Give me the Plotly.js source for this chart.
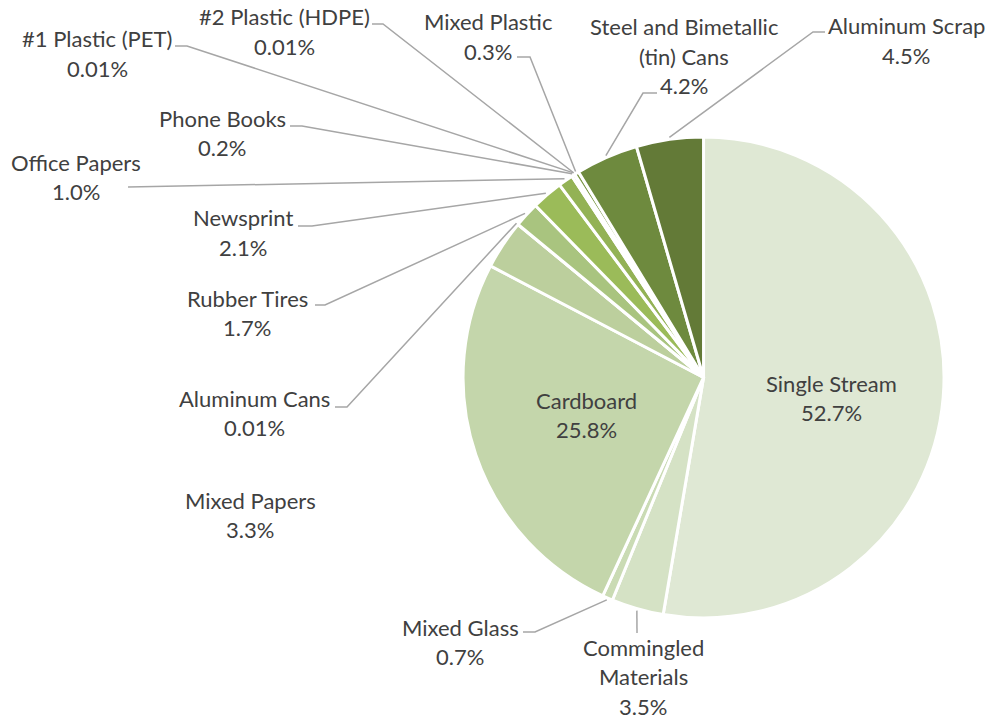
<!DOCTYPE html>
<html>
<head>
<meta charset="utf-8">
<script src="https://cdn.plot.ly/plotly-3.0.1.min.js"></script>
<style>
html,body{margin:0;padding:0;background:#ffffff;}
#chart{width:993px;height:721px;}
</style>
</head>
<body>
<div id="chart"></div>
<script>
// ---- data ----
const categories = [
  "Single Stream", "Commingled<br>Materials", "Mixed Glass", "Cardboard", "Mixed Papers",
  "Aluminum Cans", "Rubber Tires", "Newsprint", "Office Papers", "Phone Books",
  "#1 Plastic (PET)", "#2 Plastic (HDPE)", "Mixed Plastic",
  "Steel and Bimetallic<br>(tin) Cans", "Aluminum Scrap"
];
const values = [52.7, 3.5, 0.7, 25.8, 3.3, 0.01, 1.7, 2.1, 1.0, 0.2, 0.01, 0.01, 0.3, 4.2, 4.5];

// ---- styles / layout positions (pixels) ----
const sliceColors = [
  "#dfe8d4", "#d5e2c5", "#cadbb4", "#c4d6ab", "#bccf9d",
  "#b3ca8f", "#a9c47f", "#9bbb59", "#93b255", "#8aa84f",
  "#85a24c", "#809d49", "#7a9645", "#6e8a3e", "#637a37"
];
// label centre x, first-line centre y
const labelPos = [
  [831, 383], [643, 647], [460, 627], [586, 400], [250, 500],
  [254, 398], [247, 298], [243, 218], [76, 162], [222, 118],
  [97, 39], [284, 17], [488, 22], [684, 27], [906, 26]
];
// leader line: elbow x, elbow y, end x (null = no leader)
const leader = [
  null, [637, 633, 637], [535, 632, 523], null, null,
  [347, 407, 335], [325, 305, 315], [312, 226, 298], [128, 187, 128], [302, 126, 290],
  [187, 46, 175], [383, 24, 372], [530, 57, 517], [643, 93, 657], [813, 32, 825]
];
const W = 993, H = 721;
const LINE_H = 29.5;
const FONT = {family: "Lato, 'Open Sans', sans-serif", size: 22, color: "#404040"};

const px = x => x / W;
const py = y => 1 - y / H;

function fmt(v) { return (v < 0.1 ? v.toFixed(2) : v.toFixed(1)) + "%"; }

function buildAnnotations() {
  const ann = [];
  categories.forEach((c, i) => {
    const lines = c.split("<br>").concat([fmt(values[i])]);
    lines.forEach((t, k) => {
      ann.push({
        xref: "paper", yref: "paper",
        x: px(labelPos[i][0]), y: py(labelPos[i][1] + k * LINE_H),
        xanchor: "center", yanchor: "middle",
        borderpad: 0,
        text: t, showarrow: false, font: FONT
      });
    });
  });
  return ann;
}

const trace = {
  type: "pie",
  labels: categories,
  values: values,
  sort: false,
  direction: "clockwise",
  rotation: 0,
  marker: {colors: sliceColors, line: {color: "#ffffff", width: 3}},
  textinfo: "none",
  hoverinfo: "label+value",
  domain: {x: [0.4663, 0.9507], y: [0.1429, 0.8100]},
  showlegend: false
};

const layout = {
  width: W, height: H,
  margin: {l: 0, r: 0, t: 0, b: 0},
  paper_bgcolor: "#ffffff",
  showlegend: false,
  annotations: buildAnnotations()
};

const gd = document.getElementById("chart");
Plotly.newPlot(gd, [trace], layout, {displayModeBar: false, staticPlot: true}).then(() => {
  const cd = gd.calcdata && gd.calcdata[0];
  let cx, cy, r, mids;
  if (cd && cd[0] && cd[0].cx !== undefined && cd[0].pxmid) {
    cx = cd[0].cx; cy = cd[0].cy; r = cd[0].r;
    mids = cd.map(p => [p.pxmid[0] / r, p.pxmid[1] / r]);
  } else {
    cx = (trace.domain.x[0] + trace.domain.x[1]) / 2 * W;
    cy = (1 - (trace.domain.y[0] + trace.domain.y[1]) / 2) * H;
    r = Math.min((trace.domain.x[1] - trace.domain.x[0]) * W, (trace.domain.y[1] - trace.domain.y[0]) * H) / 2;
    const tot = values.reduce((a, b) => a + b, 0);
    let acc = 0;
    mids = values.map(v => {
      const a = (acc + v / 2) / tot * 2 * Math.PI; acc += v;
      return [Math.sin(a), -Math.cos(a)];
    });
  }
  const shapes = [];
  leader.forEach((l, i) => {
    if (!l) return;
    const sx = cx + mids[i][0] * (r + 2);
    const sy = cy + mids[i][1] * (r + 2);
    shapes.push({
      type: "path", xref: "paper", yref: "paper",
      path: `M ${px(sx)} ${py(sy)} L ${px(l[0])} ${py(l[1])} L ${px(l[2])} ${py(l[1])}`,
      line: {color: "#a6a6a6", width: 1.5}
    });
  });
  return Plotly.relayout(gd, {shapes: shapes});
});
</script>
</body>
</html>
